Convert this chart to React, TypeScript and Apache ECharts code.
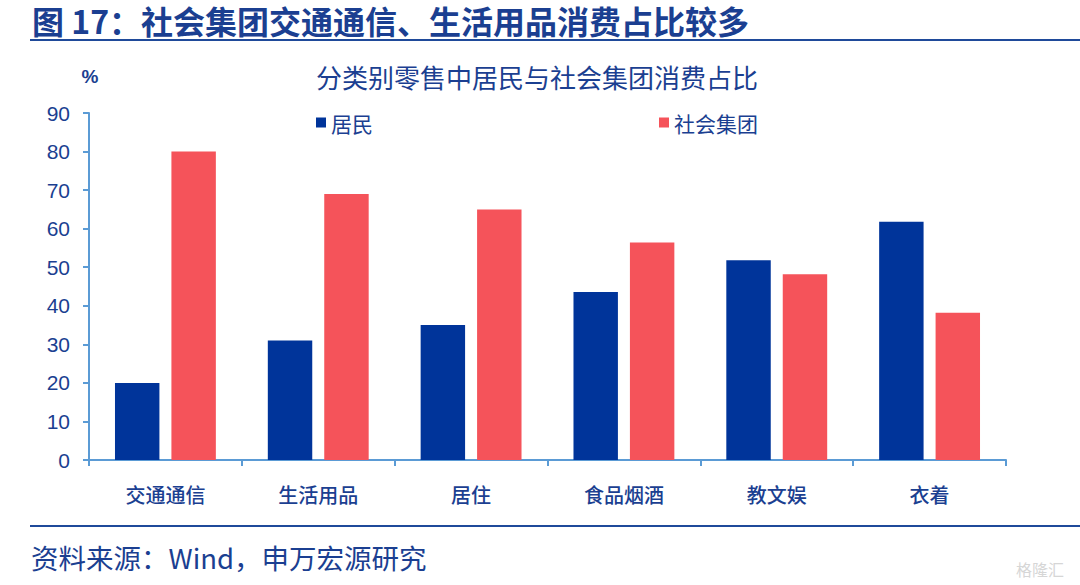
import React, { useEffect, useRef } from "react";
import * as echarts from "echarts";

const categories = ["交通通信", "生活用品", "居住", "食品烟酒", "教文娱", "衣着"];
const residents = [20, 31, 35, 43.6, 51.8, 61.8];
const groups = [80, 69, 65, 56.4, 48.2, 38.2];
const seriesNames = ["居民", "社会集团"];
const titleText = "图 17：社会集团交通通信、生活用品消费占比较多";
const subtitleText = "分类别零售中居民与社会集团消费占比";
const sourceText = "资料来源：Wind，申万宏源研究";
const unitText = "%";

const CJK = "'Noto Sans CJK SC', 'Liberation Sans', sans-serif";
const NUM = "'Liberation Sans', 'Noto Sans CJK SC', sans-serif";
const DARK = "#1B3F91";
const BLUE = "#00349A";
const RED = "#F5535A";
const AXIS = "#5B9BD5";

export default function App() {
  const ref = useRef<HTMLDivElement>(null);
  useEffect(() => {
    document.body.style.margin = "0";
    const chart = echarts.init(ref.current!, undefined, { renderer: "svg" });
    chart.setOption({
      animation: false,
      backgroundColor: "#ffffff",
      grid: { left: 89, right: 74, top: 113, bottom: 125, containLabel: false },
      legend: [
        {
          data: [seriesNames[0]],
          left: 316,
          top: 112,
          padding: 0,
          icon: "rect",
          itemWidth: 10,
          itemHeight: 10,
          textStyle: { color: DARK, fontSize: 21, fontFamily: CJK },
        },
        {
          data: [seriesNames[1]],
          left: 659,
          top: 112,
          padding: 0,
          icon: "rect",
          itemWidth: 10,
          itemHeight: 10,
          textStyle: { color: DARK, fontSize: 21, fontFamily: CJK },
        },
      ],
      xAxis: {
        type: "category",
        data: categories,
        axisLine: { show: true, lineStyle: { color: AXIS, width: 2 } },
        axisTick: { show: true, length: 6, lineStyle: { color: AXIS, width: 2 } },
        axisLabel: { color: DARK, fontSize: 20, fontFamily: CJK, margin: 24, fontWeight: 500 },
        splitLine: { show: false },
      },
      yAxis: {
        type: "value",
        min: 0,
        max: 90,
        interval: 10,
        axisLine: { show: true, lineStyle: { color: AXIS, width: 2 } },
        axisTick: { show: true, length: 6, lineStyle: { color: AXIS, width: 2 } },
        axisLabel: { color: DARK, fontSize: 21, fontFamily: NUM, margin: 19 },
        splitLine: { show: false },
      },
      series: [
        {
          name: seriesNames[0],
          type: "bar",
          data: residents,
          itemStyle: { color: BLUE },
          barCategoryGap: "34%",
          barGap: "27%",
        },
        {
          name: seriesNames[1],
          type: "bar",
          data: groups,
          itemStyle: { color: RED },
          barCategoryGap: "34%",
          barGap: "27%",
        },
      ],
      graphic: [
        {
          type: "text",
          x: 32,
          y: 20,
          style: {
            text: titleText,
            fill: DARK,
            font: `bold 32px ${CJK}`,
            lineHeight: 32,
            textVerticalAlign: "middle",
          },
        },
        {
          type: "line",
          shape: { x1: 30, y1: 40, x2: 1080, y2: 40 },
          style: { stroke: "#1F4A9A", lineWidth: 2 },
        },
        {
          type: "text",
          x: 537,
          y: 76,
          style: {
            text: subtitleText,
            fill: DARK,
            font: `26px ${CJK}`,
            textAlign: "center",
            textVerticalAlign: "middle",
          },
        },
        {
          type: "text",
          x: 90,
          y: 76,
          style: {
            text: unitText,
            fill: DARK,
            font: `bold 19px ${NUM}`,
            textAlign: "center",
            textVerticalAlign: "middle",
          },
        },
        {
          type: "line",
          shape: { x1: 30, y1: 526, x2: 1080, y2: 526 },
          style: { stroke: "#1F4A9A", lineWidth: 2 },
        },
        {
          type: "text",
          x: 31,
          y: 557,
          style: {
            text: sourceText,
            fill: DARK,
            font: `27.5px ${CJK}`,
            textVerticalAlign: "middle",
          },
        },
        {
          type: "text",
          x: 1040,
          y: 569,
          style: {
            text: "格隆汇",
            fill: "#d6d6d6",
            font: `16px ${CJK}`,
            textAlign: "center",
            textVerticalAlign: "middle",
          },
        },
      ],
    });
    return () => chart.dispose();
  }, []);
  return (
    <div
      ref={ref}
      style={{ position: "fixed", left: 0, top: 0, width: 1080, height: 585 }}
    />
  );
}
